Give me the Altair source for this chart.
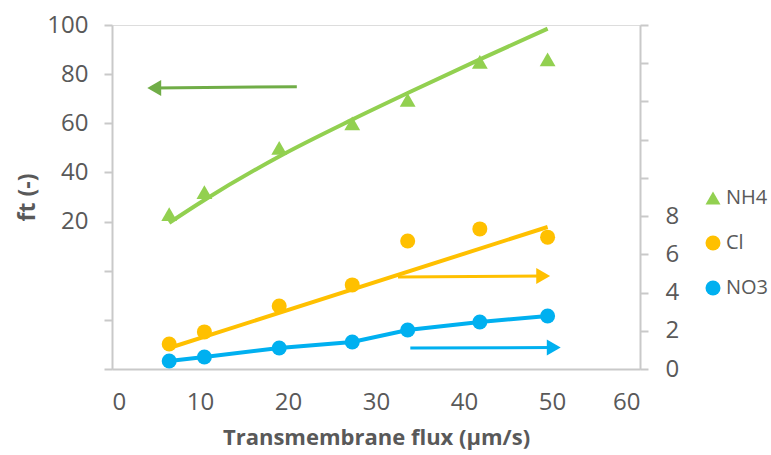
import altair as alt
import pandas as pd

# ---- data ----
flux = [6.5, 10.5, 19, 27.3, 33.6, 41.8, 49.5]
nh4 = [23, 32, 50, 60, 69.5, 85, 86]
cl = [1.31, 1.94, 3.3, 4.4, 6.7, 7.33, 6.9]
no3 = [0.42, 0.63, 1.1, 1.41, 2.04, 2.46, 2.77]

# trend lines as drawn
nh4_trend = [19.5, 28.8, 46.5, 61.5, 72.3, 86, 98.5]
cl_trend_x = [6.5, 49.5]
cl_trend_y = [1.1, 7.43]

# annotation arrows (tail -> head centre), in data units of their axis
green_arrow = {"x": 21.0, "x2": 4.8, "y": 74.9, "y2": 74.4}
orange_arrow = {"x": 32.5, "x2": 49.0, "y": 4.82, "y2": 4.86}
blue_arrow = {"x": 33.9, "x2": 50.2, "y": 1.1, "y2": 1.12}

series = ["NH4", "Cl", "NO3"]
colors = ["#92D050", "#FFC000", "#00B0F0"]
shapes = ["triangle-up", "circle", "circle"]

left_ticks = [-40, -20, 0, 20, 40, 60, 80, 100]
right_ticks = [0, 2, 4, 6, 8, 10, 12, 14, 16, 18]
x_ticks = [0, 10, 20, 30, 40, 50, 60]

GRAY = "#595959"
AXC = "#C9C9C9"
FONT = "Open Sans"
TICKFS = 24

# ---- tables ----
pts_left = pd.DataFrame({"flux": flux, "val": nh4, "ion": "NH4"})
pts_right = pd.concat([
    pd.DataFrame({"flux": flux, "val": cl, "ion": "Cl"}),
    pd.DataFrame({"flux": flux, "val": no3, "ion": "NO3"}),
])
nh4_tr = pd.DataFrame({"flux": flux, "val": nh4_trend})
cl_tr = pd.DataFrame({"flux": cl_trend_x, "val": cl_trend_y})
no3_ln = pd.DataFrame({"flux": flux, "val": no3})

xscale = alt.Scale(domain=[0, 60], nice=False)
xaxis = alt.Axis(values=x_ticks, grid=False, ticks=False, tickSize=0,
                 domainColor=AXC, domainWidth=2, labelPadding=21,
                 labelFontSize=TICKFS, labelColor=GRAY, labelFont=FONT,
                 title="Transmembrane flux (µm/s)", titleFontSize=22,
                 titleFont=FONT, titleFontWeight="bold", titleColor=GRAY,
                 titleX=264, titleY=68, titleAlign="center",
                 titleBaseline="middle")

lscale = alt.Scale(domain=[-40, 100], nice=False, zero=False)
laxis = alt.Axis(values=left_ticks, grid=False, orient="left",
                 labelExpr="datum.value >= 20 ? datum.label : ''",
                 domainColor=AXC, domainWidth=2, tickColor=AXC, tickWidth=2,
                 tickSize=8, labelPadding=16, labelFontSize=TICKFS,
                 labelColor=GRAY, labelFont=FONT, title="ft (-)",
                 titleFontSize=23, titleFont=FONT, titleFontWeight="bold",
                 titleColor=GRAY, titleX=-85, titleY=172, titleAngle=-90,
                 titleAlign="center", titleBaseline="middle")

rscale = alt.Scale(domain=[0, 18], nice=False)
raxis = alt.Axis(values=right_ticks, grid=False, orient="right",
                 labelExpr="datum.value <= 8 ? datum.label : ''",
                 domainColor=AXC, domainWidth=2, tickColor=AXC, tickWidth=2,
                 tickSize=8, labelPadding=17, labelFontSize=TICKFS,
                 labelColor=GRAY, labelFont=FONT, title=None)

X = alt.X("flux:Q", scale=xscale, axis=xaxis)
YL = alt.Y("val:Q", scale=lscale, axis=laxis)
YR = alt.Y("val:Q", scale=rscale, axis=raxis)

legend = alt.Legend(title=None, orient="none", legendX=591, legendY=163,
                    symbolSize=225, labelFontSize=20, labelFont=FONT,
                    labelColor=GRAY, rowPadding=25, labelOffset=3,
                    padding=0, symbolStrokeWidth=0, labelLimit=0)
color = alt.Color("ion:N", scale=alt.Scale(domain=series, range=colors),
                  legend=legend)
shape = alt.Shape("ion:N", scale=alt.Scale(domain=series, range=shapes),
                  legend=legend)


def arrow(d, ycol_scale, ycol_axis, col, head_shape):
    df = pd.DataFrame([d])
    rule = alt.Chart(df).mark_rule(color=col, strokeWidth=3).encode(
        x=alt.X("x:Q", scale=xscale, axis=xaxis),
        x2="x2:Q",
        y=alt.Y("y:Q", scale=ycol_scale, axis=ycol_axis),
        y2="y2:Q",
    )
    head = alt.Chart(df).mark_point(shape=head_shape, filled=True,
                                    size=256, color=col, opacity=1,
                                    strokeWidth=0).encode(
        x=alt.X("x2:Q", scale=xscale, axis=xaxis),
        y=alt.Y("y2:Q", scale=ycol_scale, axis=ycol_axis),
    )
    return rule + head


left = alt.layer(
    alt.Chart(nh4_tr).mark_line(color="#92D050", strokeWidth=4,
                                interpolate="monotone").encode(x=X, y=YL),
    alt.Chart(pts_left).mark_point(filled=True, size=250, opacity=1,
                                   strokeWidth=0).encode(
        x=X, y=YL, color=color, shape=shape),
    arrow(green_arrow, lscale, laxis, "#70AD47", "triangle-left"),
)

right = alt.layer(
    alt.Chart(cl_tr).mark_line(color="#FFC000", strokeWidth=4).encode(x=X, y=YR),
    alt.Chart(no3_ln).mark_line(color="#00B0F0", strokeWidth=4).encode(x=X, y=YR),
    alt.Chart(pts_right).mark_point(filled=True, size=225, opacity=1,
                                    strokeWidth=0).encode(
        x=X, y=YR, color=color, shape=shape),
    arrow(orange_arrow, rscale, raxis, "#FFC000", "triangle-right"),
    arrow(blue_arrow, rscale, raxis, "#00B0F0", "triangle-right"),
)

chart = alt.layer(left, right).resolve_scale(y="independent").properties(
    width=528, height=344,
    autosize=alt.AutoSizeParams(type="none"),
    padding={"left": 112, "top": 25, "right": 131, "bottom": 86},
).configure_view(stroke=None).configure(background="white")

chart.save("out.html", embed_options={"renderer": "svg", "actions": False})
